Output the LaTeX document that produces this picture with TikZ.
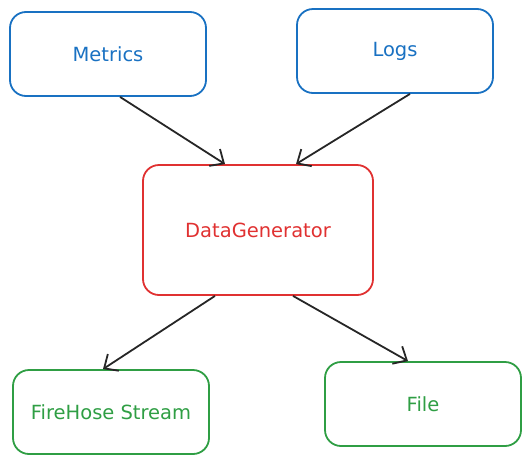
\documentclass[tikz,border=0pt]{standalone}
\usepackage{fontspec}
\setmainfont{DejaVu Sans}
\usepackage{xcolor}
\usetikzlibrary{arrows.meta, positioning}

\definecolor{srcblue}{HTML}{1971C2}
\definecolor{genred}{HTML}{E03131}
\definecolor{sinkgreen}{HTML}{2F9E44}

\begin{document}
\begin{tikzpicture}[x=1pt, y=-1pt,
    box/.style={draw, rounded corners=16pt, line width=1.8pt, minimum width=196pt, minimum height=84pt, font=\fontsize{19.5}{22}\selectfont},
    srcbox/.style={box, draw=srcblue, text=srcblue},
    genbox/.style={box, draw=genred, text=genred, minimum width=230pt, minimum height=130pt},
    sinkbox/.style={box, draw=sinkgreen, text=sinkgreen},
    flow/.style={line width=1.8pt, color=black!85, -{Straight Barb[length=11pt, width=20pt]}}]
  \useasboundingbox (0,0) rectangle (532,464);
  \node[srcbox] (metrics) at (108,54) {Metrics};
  \node[srcbox] (logs) at (395,51) {Logs};
  \node[genbox] (gen) at (258,230) {DataGenerator};
  \node[sinkbox] (firehose) at (111,412) {FireHose Stream};
  \node[sinkbox] (file) at (423,404) {File};
  \draw[flow] ([xshift=12pt]metrics.south) -- ([xshift=-33pt]gen.north);
  \draw[flow] ([xshift=15pt]logs.south) -- ([xshift=38pt]gen.north);
  \draw[flow] ([xshift=-43pt]gen.south) -- ([xshift=-8pt]firehose.north);
  \draw[flow] ([xshift=35pt]gen.south) -- ([xshift=-15pt]file.north);
\end{tikzpicture}
\end{document}
